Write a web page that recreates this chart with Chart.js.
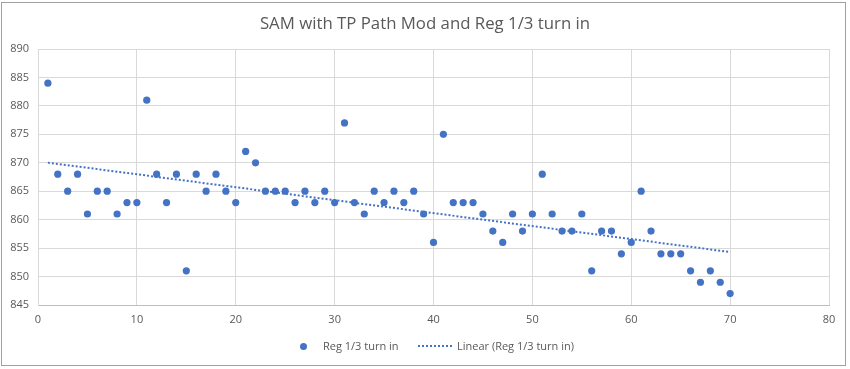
<!DOCTYPE html>
<html>
<head>
<meta charset="utf-8">
<script src="https://cdn.jsdelivr.net/npm/chart.js"></script>
<style>
  html, body { margin: 0; padding: 0; background: #fff; }
  #wrap { position: relative; width: 850px; height: 369px; overflow: hidden; font-family: "Open Sans", sans-serif; color: #595959; }
  #frame { position: absolute; left: 1px; top: 2px; width: 845px; height: 364px; border: 1px solid #a0a0a0; box-sizing: border-box; }
  #title { position: absolute; left: 0; width: 850px; top: 11px; text-align: center; font-size: 16.8px; }
  #legend { position: absolute; top: 338px; left: 0; font-size: 11px; }
  .dot { position: absolute; top: 5px; width: 7px; height: 7px; border-radius: 50%; background: #4472C4; }
  .dash { position: absolute; top: 7px; width: 34px; border-top: 2px dotted #4472C4; }
  .lbl { position: absolute; top: 0; white-space: nowrap; }
  canvas { position: absolute; left: 0; top: 0; }
</style>
</head>
<body>
<div id="wrap">
  <canvas id="chart" width="850" height="369"></canvas>
  <div id="frame"></div>
  <div id="title">SAM with TP Path Mod and Reg 1/3 turn in</div>
  <div id="legend">
    <span class="dot" style="left:300px"></span>
    <span class="lbl" style="left:323px">Reg 1/3 turn in</span>
    <span class="dash" style="left:418px"></span>
    <span class="lbl" style="left:457px">Linear (Reg 1/3 turn in)</span>
  </div>
</div>
<script>
// 試行番号と測定値
const runs = [];
for (let i = 1; i <= 70; i++) runs.push(i);
const values = [
  884, 868, 865, 868, 861, 865, 865, 861, 863, 863,
  881, 868, 863, 868, 851, 868, 865, 868, 865, 863,
  872, 870, 865, 865, 865, 863, 865, 863, 865, 863,
  877, 863, 861, 865, 863, 865, 863, 865, 861, 856,
  875, 863, 863, 863, 861, 858, 856, 861, 858, 861,
  868, 861, 858, 858, 861, 851, 858, 858, 854, 856,
  865, 858, 854, 854, 854, 851, 849, 851, 849, 847
];
const seriesName = "Reg 1/3 turn in";
const trendName = "Linear (Reg 1/3 turn in)";

// Excelの線形近似と同じ最小二乗
const n = runs.length;
const mx = runs.reduce((a, b) => a + b, 0) / n;
const my = values.reduce((a, b) => a + b, 0) / n;
let sxy = 0, sxx = 0;
for (let i = 0; i < n; i++) {
  sxy += (runs[i] - mx) * (values[i] - my);
  sxx += (runs[i] - mx) * (runs[i] - mx);
}
const slope = sxy / sxx;
const icpt = my - slope * mx;
const x0 = runs[0], x1 = runs[n - 1];

const blue = "#4472C4";
const grid = "#d9d9d9";

new Chart(document.getElementById("chart"), {
  type: "scatter",
  data: {
    datasets: [
      {
        label: seriesName,
        data: runs.map((x, i) => ({ x: x, y: values[i] })),
        backgroundColor: blue,
        borderColor: blue,
        pointRadius: 3.6,
        pointBorderWidth: 0
      },
      {
        type: "line",
        label: trendName,
        data: [{ x: x0, y: icpt + slope * x0 }, { x: x1, y: icpt + slope * x1 }],
        borderColor: blue,
        borderWidth: 2,
        borderDash: [2, 2],
        pointRadius: 0,
        fill: false
      }
    ]
  },
  options: {
    responsive: false,
    animation: false,
    layout: { padding: { left: 2, top: 49, right: 21, bottom: 38 } },
    plugins: { legend: { display: false }, tooltip: { enabled: false }, title: { display: false } },
    scales: {
      x: {
        type: "linear",
        min: 0, max: 80,
        ticks: { stepSize: 10, color: "#595959", font: { family: "Open Sans", size: 11 }, padding: 8 },
        grid: { color: grid, drawTicks: false },
        border: { color: "#bfbfbf" },
        afterFit: s => { s.height = 26; }
      },
      y: {
        min: 845, max: 890,
        ticks: { stepSize: 5, color: "#595959", font: { family: "Open Sans", size: 11 }, padding: 9 },
        grid: { color: grid, drawTicks: false },
        border: { color: grid },
        afterFit: s => { s.width = 36; }
      }
    }
  }
});
</script>
</body>
</html>
